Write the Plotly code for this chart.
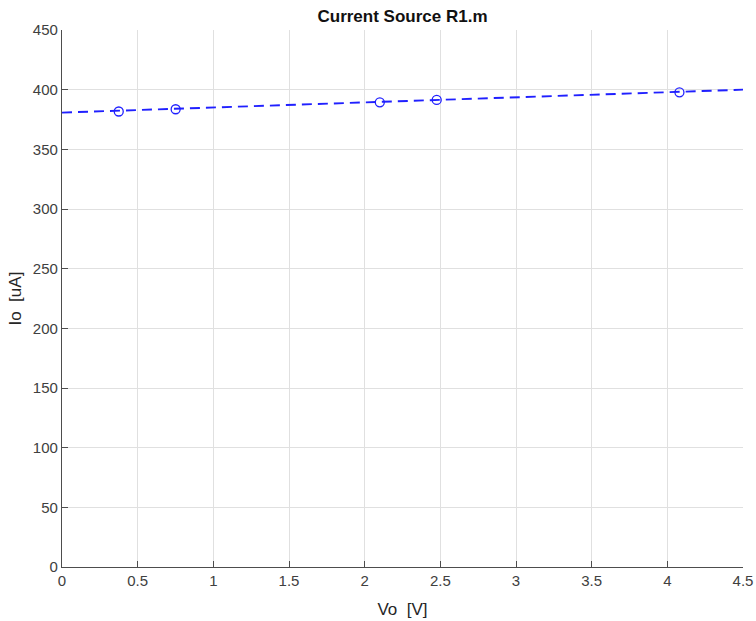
import plotly.graph_objects as go

vo = [0.375, 0.751, 2.10, 2.476, 4.08]
io = [381.7, 383.6, 389.4, 391.4, 397.8]
fit_x = [0.0, 4.5]
fit_y = [380.8, 400.0]

x_ticks = [0, 0.5, 1, 1.5, 2, 2.5, 3, 3.5, 4, 4.5]
x_labels = ["0", "0.5", "1", "1.5", "2", "2.5", "3", "3.5", "4", "4.5"]
y_ticks = [0, 50, 100, 150, 200, 250, 300, 350, 400, 450]

fig = go.Figure()
fig.add_trace(go.Scatter(x=fit_x, y=fit_y, mode="lines",
                         line=dict(color="#2020ff", width=1.9, dash="10px,6px"),
                         showlegend=False, hoverinfo="skip"))
fig.add_trace(go.Scatter(x=vo, y=io, mode="markers",
                         marker=dict(symbol="circle-open", size=9, color="#2020ff",
                                     line=dict(width=1.3, color="#2020ff")),
                         showlegend=False))

font_family = "Liberation Sans, Arial, sans-serif"
H = 621
fig.update_layout(
    width=756, height=H,
    margin=dict(l=62, r=13, t=30, b=54, autoexpand=False),
    paper_bgcolor="white", plot_bgcolor="white",
    font=dict(family=font_family, size=12, color="#262626"),
    title=dict(text="<b>Current Source R1.m</b>", x=0.5, xref="paper", xanchor="center",
               y=1 - 16 / H, yref="container", yanchor="middle",
               font=dict(size=17, color="#111111", family=font_family)),
    xaxis=dict(range=[0, 4.5], tickvals=x_ticks, ticktext=x_labels, automargin=False,
               showgrid=True, gridcolor="#e0e0e0", gridwidth=1,
               showline=True, linecolor="#4d4d4d", linewidth=1.2,
               ticks="inside", ticklen=6, tickcolor="#4d4d4d",
               zeroline=False, mirror=False,
               title=dict(text="Vo  [V]", font=dict(size=17, color="#262626")),
               tickfont=dict(size=15, color="#404040")),
    yaxis=dict(range=[0, 450], tickvals=y_ticks, automargin=False,
               showgrid=True, gridcolor="#e0e0e0", gridwidth=1,
               showline=True, linecolor="#4d4d4d", linewidth=1.2,
               ticks="inside", ticklen=6, tickcolor="#4d4d4d",
               zeroline=False, mirror=False,
               tickfont=dict(size=15, color="#404040")),
    annotations=[dict(text="Io  [uA]", textangle=-90, x=0, xref="paper", y=0.5, yref="paper",
                      xanchor="center", yanchor="middle", xshift=-47, showarrow=False,
                      font=dict(size=17, color="#262626", family=font_family))],
)

fig.write_html(
    "out.html",
    config={"displayModeBar": False},
    post_script="document.body.style.margin='0';document.documentElement.style.overflow='hidden';",
)
